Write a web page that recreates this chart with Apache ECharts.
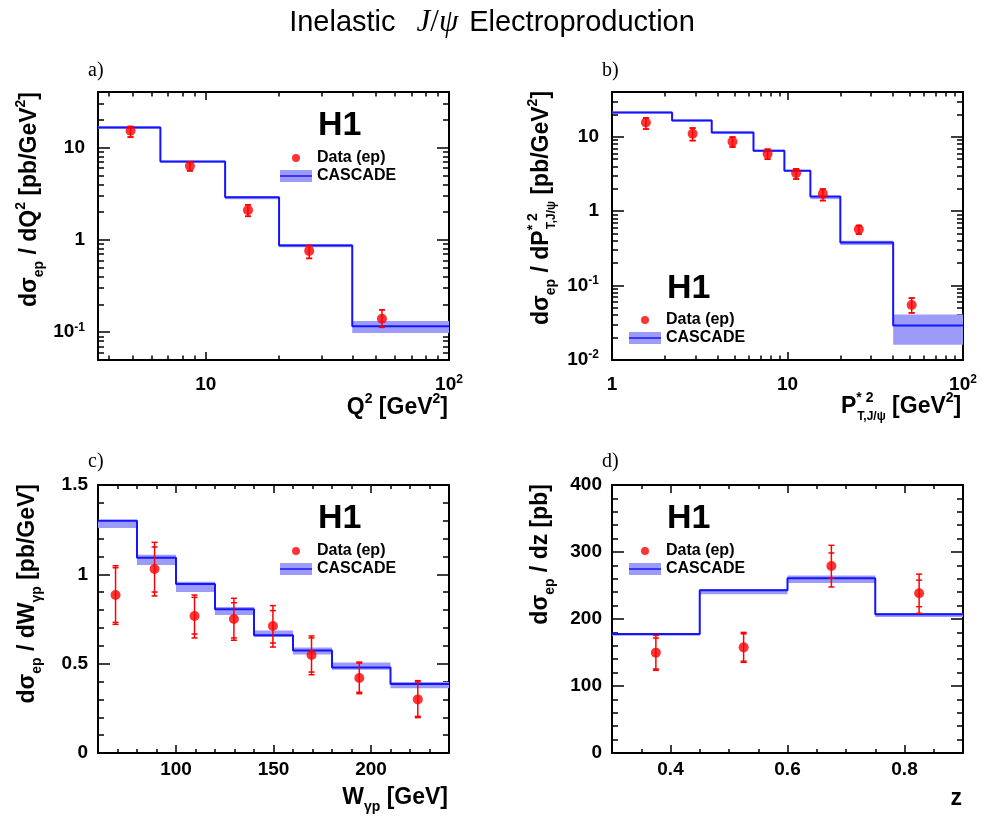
<!DOCTYPE html>
<html><head><meta charset="utf-8">
<script src="https://cdn.jsdelivr.net/npm/echarts@6/dist/echarts.min.js"></script>
<style>html,body{margin:0;padding:0;background:#fff}#c{width:989px;height:816px}</style>
</head><body><div id="c"></div>
<script>
// ---------- data ----------
// a) dσ/dQ²
const q2Edges   = [3.6, 6.5, 12, 20, 40, 100];
const q2Cascade = [16.5, 7.05, 2.9, 0.87, 0.116];
const q2BandLo  = [16.0, 6.85, 2.75, 0.83, 0.098];
const q2BandHi  = [17.0, 7.2, 2.95, 0.9, 0.132];
const q2DataX   = [4.9, 8.6, 14.9, 26.6, 53];
const q2DataY   = [15.2, 6.3, 2.1, 0.76, 0.14];
const q2ErrLo   = [13.0, 5.6, 1.8, 0.63, 0.113];
const q2ErrHi   = [16.9, 6.9, 2.4, 0.87, 0.175];
const q2XTicks  = [10, 100];
const q2XLabels = ['10', '10^2'];
const q2YTicks  = [0.1, 1, 10];
const q2YLabels = ['10^-1', '1', '10'];

// b) dσ/dP*²T
const ptEdges   = [1, 2.2, 3.7, 6.4, 9.6, 13.5, 20, 40, 100];
const ptCascade = [21.2, 16.6, 11.4, 6.5, 3.5, 1.57, 0.38, 0.029];
const ptBandLo  = [20.6, 16.1, 11.0, 6.3, 3.4, 1.45, 0.35, 0.016];
const ptBandHi  = [21.8, 17.1, 11.8, 6.7, 3.6, 1.6, 0.40, 0.041];
const ptDataX   = [1.56, 2.88, 4.86, 7.7, 11.2, 15.9, 25.5, 51];
const ptDataY   = [15.6, 11.0, 8.6, 5.9, 3.25, 1.71, 0.57, 0.055];
const ptErrLo   = [12.7, 8.9, 7.3, 5.0, 2.7, 1.39, 0.49, 0.043];
const ptErrHi   = [17.9, 13.1, 9.9, 6.8, 3.7, 1.98, 0.64, 0.068];
const ptXTicks  = [1, 10, 100];
const ptXLabels = ['1', '10', '10^2'];
const ptYTicks  = [0.01, 0.1, 1, 10];
const ptYLabels = ['10^-2', '10^-1', '1', '10'];

// c) dσ/dWγp
const wEdges    = [60, 80, 100, 120, 140, 160, 180, 210, 240];
const wCascade  = [1.30, 1.093, 0.946, 0.804, 0.659, 0.573, 0.478, 0.386];
const wBandLo   = [1.259, 1.052, 0.901, 0.772, 0.649, 0.552, 0.466, 0.362];
const wBandHi   = [1.306, 1.11, 0.959, 0.817, 0.685, 0.59, 0.507, 0.397];
const wDataX    = [69, 89, 109.5, 129.7, 149.7, 169.5, 194, 224];
const wDataY    = [0.884, 1.03, 0.767, 0.75, 0.711, 0.549, 0.42, 0.30];
const wErrLo    = [0.72, 0.879, 0.644, 0.631, 0.593, 0.438, 0.332, 0.198];
const wErrHi    = [1.048, 1.179, 0.884, 0.866, 0.825, 0.655, 0.509, 0.405];
const wStatLo   = [0.731, 0.901, 0.666, 0.644, 0.616, 0.453, 0.34, 0.205];
const wStatHi   = [1.037, 1.153, 0.871, 0.841, 0.797, 0.644, 0.503, 0.398];
const wXTicks   = [100, 150, 200];
const wXLabels  = ['100', '150', '200'];
const wYTicks   = [0, 0.5, 1, 1.5];
const wYLabels  = ['0', '0.5', '1', '1.5'];

// d) dσ/dz
const zEdges    = [0.3, 0.45, 0.6, 0.75, 0.9];
const zCascade  = [177.6, 242.8, 260.7, 207];
const zBandLo   = [175, 236.8, 253.7, 203];
const zBandHi   = [179, 244.8, 265, 209];
const zDataX    = [0.375, 0.525, 0.675, 0.825];
const zDataY    = [149.8, 157.7, 279, 238.3];
const zErrLo    = [123.4, 135.3, 247.8, 208.5];
const zErrHi    = [175.6, 180, 310, 267];
const zStatLo   = [125.4, 137, 261, 218.4];
const zStatHi   = [171.6, 178, 298.5, 258];
const zXTicks   = [0.4, 0.6, 0.8];
const zXLabels  = ['0.4', '0.6', '0.8'];
const zYTicks   = [0, 100, 200, 300, 400];
const zYLabels  = ['0', '100', '200', '300', '400'];

// ---------- styling ----------
const SANS = '"Liberation Sans", Arial, Helvetica, sans-serif';
const SERIF = '"Liberation Serif", "Times New Roman", serif';
const BAND = '#9c9cf8';
const LINE = '#1414ff';
const RED = '#ff0000';
const DOT_ICON = 'path://M0,0M32,12M20,6A4,4,0,1,1,12,6A4,4,0,1,1,20,6Z';

const LABEL_RICH = {
  n: {fontFamily: SANS, fontWeight: 'bold', fontSize: 19, color: '#000', lineHeight: 22, verticalAlign: 'middle'},
  s: {fontFamily: SANS, fontWeight: 'bold', fontSize: 12, color: '#000', lineHeight: 12, verticalAlign: 'top'}
};
function richLabel(s) {
  if (s.indexOf('^') >= 0) { const p = s.split('^'); return '{n|' + p[0] + '}{s|' + p[1] + '}'; }
  return '{n|' + s + '}';
}
function logMinors(min, max) {
  const out = [];
  for (let e = -3; e <= 3; e++) for (let k = 2; k <= 9; k++) {
    const v = +(k * Math.pow(10, e)).toPrecision(6);
    if (v >= min && v <= max) out.push(v);
  }
  return out;
}
function linMinors(min, max, step, majors) {
  const out = []; const n = Math.round((max - min) / step);
  for (let i = 0; i <= n; i++) {
    const v = +(min + i * step).toFixed(6);
    if (!majors.some(m => Math.abs(m - v) < 1e-9)) out.push(v);
  }
  return out;
}
function axes(dim, grid, c) {
  const pos = dim === 'x' ? ['bottom', 'top'] : ['left', 'right'];
  const base = {gridIndex: grid, type: c.type, min: c.min, max: c.max,
    splitLine: {show: false}, minorTick: {show: false}, axisPointer: {show: false}};
  if (c.type === 'log') base.logBase = 10;
  const tickStyle = {color: '#000', width: 1.5};
  const fmt = v => {
    const i = c.majors.findIndex(m => Math.abs(m - v) <= 1e-6 * Math.max(1e-12, Math.abs(m)) || (m === 0 && Math.abs(v) < 1e-9));
    return i >= 0 ? richLabel(c.labels[i]) : '';
  };
  const mk = (p, showLine, ticks, len, label) => Object.assign({}, base, {
    position: p,
    axisLine: {show: showLine, onZero: false, lineStyle: {color: '#000', width: 2}},
    axisTick: {show: true, inside: true, length: len, customValues: ticks, lineStyle: tickStyle},
    axisLabel: label ? {show: true, customValues: c.majors, margin: c.margin, formatter: fmt, rich: LABEL_RICH,
      fontFamily: SANS, fontWeight: 'bold', fontSize: 19, color: '#000', hideOverlap: false} : {show: false}
  });
  return [
    mk(pos[0], true, c.majors, c.majorLen, true),
    mk(pos[0], false, c.minors, c.minorLen, false),
    mk(pos[1], true, c.majors, c.majorLen, false),
    mk(pos[1], false, c.minors, c.minorLen, false)
  ];
}

const grids = [
  {left: 98, top: 92, width: 351, height: 268},
  {left: 612, top: 92, width: 351, height: 268},
  {left: 98, top: 485, width: 351, height: 268},
  {left: 612, top: 485, width: 351, height: 268}
];

const xAxes = [].concat(
  axes('x', 0, {type: 'log', min: 3.6, max: 100, majors: q2XTicks, labels: q2XLabels, minors: logMinors(3.6, 100), majorLen: 8, minorLen: 4.5, margin: 14}),
  axes('x', 1, {type: 'log', min: 1, max: 100, majors: ptXTicks, labels: ptXLabels, minors: logMinors(1, 100), majorLen: 8, minorLen: 4.5, margin: 14}),
  axes('x', 2, {type: 'value', min: 60, max: 240, majors: wXTicks, labels: wXLabels, minors: linMinors(60, 240, 10, wXTicks), majorLen: 8, minorLen: 4, margin: 6}),
  axes('x', 3, {type: 'value', min: 0.3, max: 0.9, majors: zXTicks, labels: zXLabels, minors: linMinors(0.3, 0.9, 0.05, zXTicks), majorLen: 8, minorLen: 4, margin: 6})
);
const yAxes = [].concat(
  axes('y', 0, {type: 'log', min: 0.05, max: 40, majors: q2YTicks, labels: q2YLabels, minors: logMinors(0.05, 40), majorLen: 12, minorLen: 6, margin: 13}),
  axes('y', 1, {type: 'log', min: 0.01, max: 40, majors: ptYTicks, labels: ptYLabels, minors: logMinors(0.01, 40), majorLen: 12, minorLen: 6, margin: 13}),
  axes('y', 2, {type: 'value', min: 0, max: 1.5, majors: wYTicks, labels: wYLabels, minors: linMinors(0, 1.5, 0.1, wYTicks), majorLen: 12, minorLen: 6, margin: 10}),
  axes('y', 3, {type: 'value', min: 0, max: 400, majors: zYTicks, labels: zYLabels, minors: linMinors(0, 400, 20, zYTicks), majorLen: 12, minorLen: 6, margin: 10})
);

function histLine(edges, vals) {
  const d = vals.map((v, i) => [edges[i], v]);
  d.push([edges[edges.length - 1], vals[vals.length - 1]]);
  return d;
}
function bandRows(edges, lo, hi) { return lo.map((l, i) => [edges[i], edges[i + 1], l, hi[i]]); }
function errRows(x, y, lo, hi, slo, shi) {
  return x.map((xv, i) => [xv, y[i], lo[i], hi[i], slo ? slo[i] : lo[i], shi ? shi[i] : hi[i]]);
}
function bandRender(params, api) {
  const p1 = api.coord([api.value(0), api.value(3)]);
  const p2 = api.coord([api.value(1), api.value(2)]);
  return {type: 'rect', shape: {x: p1[0], y: p1[1], width: p2[0] - p1[0], height: p2[1] - p1[1]}, style: {fill: BAND}};
}
function errRender(params, api) {
  const x = api.value(0);
  const lo = api.coord([x, api.value(2)]), hi = api.coord([x, api.value(3)]);
  const slo = api.coord([x, api.value(4)]), shi = api.coord([x, api.value(5)]);
  const w = 3, st = {stroke: RED, lineWidth: 1.5};
  const cap = p => ({type: 'line', shape: {x1: p[0] - w, y1: p[1], x2: p[0] + w, y2: p[1]}, style: st});
  return {type: 'group', children: [
    {type: 'line', shape: {x1: lo[0], y1: lo[1], x2: hi[0], y2: hi[1]}, style: st},
    cap(lo), cap(hi), cap(slo), cap(shi)
  ]};
}
function panelSeries(p, edges, cas, blo, bhi, dx, dy, elo, ehi, slo, shi) {
  const ax = {xAxisIndex: p * 4, yAxisIndex: p * 4};
  return [
    Object.assign({type: 'custom', name: 'CASCADE', renderItem: bandRender, data: bandRows(edges, blo, bhi),
      encode: {x: [0, 1], y: [2, 3]}, z: 1, silent: true}, ax),
    Object.assign({type: 'line', name: 'CASCADE', step: 'end', showSymbol: false, symbol: 'none',
      data: histLine(edges, cas), lineStyle: {color: LINE, width: 2}, itemStyle: {color: LINE}, z: 2, silent: true}, ax),
    Object.assign({type: 'custom', name: 'err' + p, renderItem: errRender, data: errRows(dx, dy, elo, ehi, slo, shi),
      encode: {x: 0, y: [2, 3]}, z: 3, silent: true}, ax),
    Object.assign({type: 'scatter', name: 'Data (ep)', data: dx.map((x, i) => [x, dy[i]]), symbolSize: 10,
      itemStyle: {color: RED}, z: 4, silent: true}, ax)
  ];
}
const series = [].concat(
  panelSeries(0, q2Edges, q2Cascade, q2BandLo, q2BandHi, q2DataX, q2DataY, q2ErrLo, q2ErrHi),
  panelSeries(1, ptEdges, ptCascade, ptBandLo, ptBandHi, ptDataX, ptDataY, ptErrLo, ptErrHi),
  panelSeries(2, wEdges, wCascade, wBandLo, wBandHi, wDataX, wDataY, wErrLo, wErrHi, wStatLo, wStatHi),
  panelSeries(3, zEdges, zCascade, zBandLo, zBandHi, zDataX, zDataY, zErrLo, zErrHi, zStatLo, zStatHi)
);

function legend(left, top) {
  return {left: left, top: top, orient: 'vertical', padding: 0, itemWidth: 32, itemHeight: 12, itemGap: 2,
    selectedMode: false, textStyle: {fontFamily: SANS, fontWeight: 'bold', fontSize: 16, color: '#000'},
    data: [{name: 'Data (ep)', icon: DOT_ICON, itemStyle: {color: RED, borderWidth: 0}},
           {name: 'CASCADE', icon: 'rect', itemStyle: {color: BAND, borderWidth: 0}}]};
}
const legendPos = [[280, 150], [629, 312], [280, 543], [629, 543]];

// ---------- text ----------
const TITLE_RICH = {
  main: {fontFamily: SANS, fontWeight: 'bold', fontSize: 23, fill: '#000', lineHeight: 32, verticalAlign: 'middle'},
  sb: {fontFamily: SANS, fontWeight: 'bold', fontSize: 14, fill: '#000', lineHeight: 14, verticalAlign: 'bottom'},
  sbs: {fontFamily: SANS, fontWeight: 'bold', fontSize: 12, fill: '#000', lineHeight: 12, verticalAlign: 'bottom'},
  sp: {fontFamily: SANS, fontWeight: 'bold', fontSize: 14, fill: '#000', lineHeight: 14, verticalAlign: 'top'},
  spz: {fontFamily: SANS, fontWeight: 'bold', fontSize: 14, fill: '#000', lineHeight: 14, verticalAlign: 'top', width: 1}
};
function txt(x, y, text, rich, align, valign, rot, extra) {
  return Object.assign({type: 'text', x: x, y: y, rotation: rot || 0, silent: true,
    style: Object.assign({text: text, rich: rich, align: align, verticalAlign: valign,
      textAlign: align, textVerticalAlign: valign, fill: '#000'}, extra || {})});
}
const yTitles = [
  '{main|dσ}{sb|ep}{main| / dQ}{sp|2}{main| [pb/GeV}{sp|2}{main|]}',
  '{main|dσ}{sb|ep}{main| / dP}{spz|* 2}{sbs|T,J/ψ}{main| [pb/GeV}{sp|2}{main|]}',
  '{main|dσ}{sb|ep}{main| / dW}{sb|γp}{main| [pb/GeV]}',
  '{main|dσ}{sb|ep}{main| / dz [pb]}'
];
const xTitles = [
  '{main|Q}{sp|2}{main| [GeV}{sp|2}{main|]}',
  '{main|P}{spz|* 2}{sbs|T,J/ψ}{main| [GeV}{sp|2}{main|]}',
  '{main|W}{sb|γp}{main| [GeV]}',
  '{main|z}'
];
const H1_STYLE = {fontFamily: SANS, fontWeight: 'bold', fontSize: 34};
const PANEL_STYLE = {fontFamily: SERIF, fontSize: 20};
const graphic = [
  txt(492, 23, '{r|Inelastic}{j|J}{u|/}{i|ψ}{e|Electroproduction}', {
    r: {fontFamily: SANS, fontSize: 29, fill: '#000'},
    e: {fontFamily: SANS, fontSize: 29, fill: '#000', padding: [0, 0, 0, 11]},
    j: {fontFamily: SERIF, fontStyle: 'italic', fontSize: 31, fill: '#000', padding: [0, 0, 0, 21]},
    i: {fontFamily: SERIF, fontStyle: 'italic', fontSize: 31, fill: '#000'},
    u: {fontFamily: SERIF, fontSize: 31, fill: '#000'}
  }, 'center', 'middle'),
  txt(88, 71, 'a)', null, 'left', 'middle', 0, PANEL_STYLE),
  txt(602, 71, 'b)', null, 'left', 'middle', 0, PANEL_STYLE),
  txt(88, 462, 'c)', null, 'left', 'middle', 0, PANEL_STYLE),
  txt(602, 462, 'd)', null, 'left', 'middle', 0, PANEL_STYLE),
  txt(30, 92, yTitles[0], TITLE_RICH, 'right', 'middle', Math.PI / 2),
  txt(542, 325, yTitles[1], TITLE_RICH, 'left', 'middle', Math.PI / 2),
  txt(28, 484, yTitles[2], TITLE_RICH, 'right', 'middle', Math.PI / 2),
  txt(541, 484, yTitles[3], TITLE_RICH, 'right', 'middle', Math.PI / 2),
  txt(448, 408, xTitles[0], TITLE_RICH, 'right', 'middle'),
  txt(841, 407, xTitles[1], TITLE_RICH, 'left', 'middle'),
  txt(448, 798, xTitles[2], TITLE_RICH, 'right', 'middle'),
  txt(962, 799, xTitles[3], TITLE_RICH, 'right', 'middle'),
  txt(318, 126, 'H1', null, 'left', 'middle', 0, H1_STYLE),
  txt(667, 289, 'H1', null, 'left', 'middle', 0, H1_STYLE),
  txt(318, 519, 'H1', null, 'left', 'middle', 0, H1_STYLE),
  txt(667, 519, 'H1', null, 'left', 'middle', 0, H1_STYLE)
];
legendPos.forEach(p => {
  graphic.push({type: 'line', silent: true, z: 100, shape: {x1: p[0], y1: p[1] + 26, x2: p[0] + 32, y2: p[1] + 26},
    style: {stroke: LINE, lineWidth: 1.5}});
});

const chart = echarts.init(document.getElementById('c'), null, {renderer: 'canvas'});
chart.setOption({
  animation: false,
  backgroundColor: '#fff',
  grid: grids,
  xAxis: xAxes,
  yAxis: yAxes,
  legend: legendPos.map(p => legend(p[0], p[1])),
  series: series,
  graphic: graphic
});
</script></body></html>
